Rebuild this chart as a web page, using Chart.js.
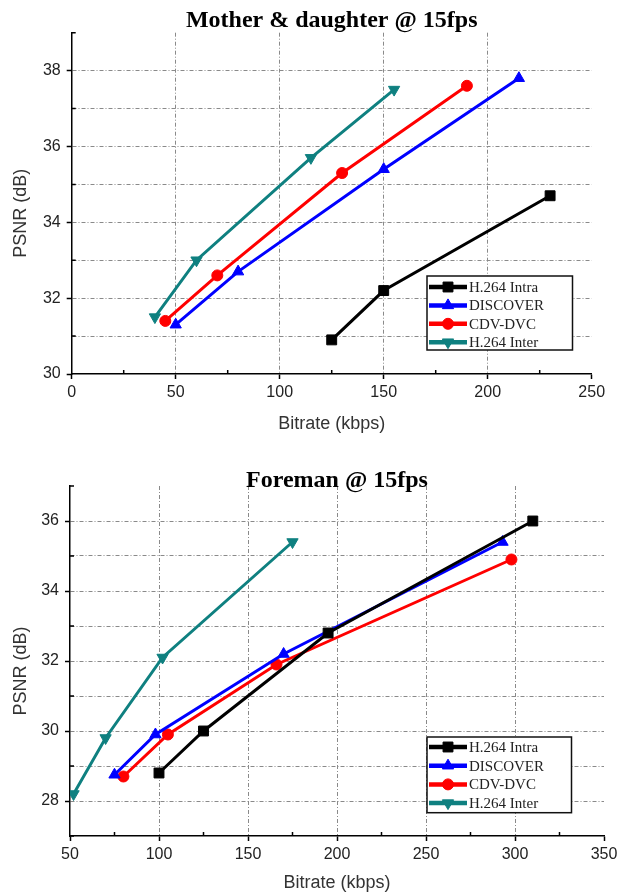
<!DOCTYPE html>
<html><head><meta charset="utf-8">
<script src="https://cdn.jsdelivr.net/npm/chart.js@4/dist/chart.umd.min.js"></script>
<style>
html,body{margin:0;padding:0;background:#fff;}
#wrap{position:relative;width:629px;height:894px;overflow:hidden;}
#c1{position:absolute;left:0;top:0;}
#c2{position:absolute;left:0;top:450px;}
</style></head><body>
<div id="wrap">
<canvas id="c1" width="629" height="450"></canvas>
<canvas id="c2" width="629" height="444"></canvas>
</div>
<script>
// ---------- data ----------
const seriesNames = ['H.264 Intra', 'DISCOVER', 'CDV-DVC', 'H.264 Inter'];

// Mother & daughter @ 15fps
const mdIntraX    = [125, 150, 230];
const mdIntraY    = [30.9, 32.2, 34.7];
const mdDiscoverX = [50, 80, 150, 215];
const mdDiscoverY = [31.3, 32.7, 35.4, 37.8];
const mdCdvX      = [45, 70, 130, 190];
const mdCdvY      = [31.4, 32.6, 35.3, 37.6];
const mdInterX    = [40, 60, 115, 155];
const mdInterY    = [31.5, 33.0, 35.7, 37.5];

// Foreman @ 15fps
const fmIntraX    = [100, 125, 195, 310];
const fmIntraY    = [28.8, 30.0, 32.8, 36.0];
const fmDiscoverX = [75, 98, 170, 293];
const fmDiscoverY = [28.75, 29.9, 32.2, 35.4];
const fmCdvX      = [80, 105, 166, 298];
const fmCdvY      = [28.7, 29.9, 31.9, 34.9];
const fmInterX    = [52, 70, 102, 175];
const fmInterY    = [28.2, 29.8, 32.1, 35.4];

// tick label sets
const mdXTickLabels = [0, 50, 100, 150, 200, 250];
const mdYTickLabels = [30, 32, 34, 36, 38];
const fmXTickLabels = [50, 100, 150, 200, 250, 300, 350];
const fmYTickLabels = [28, 30, 32, 34, 36];

// ---------- styling ----------
const colors = ['#000000', '#0000ff', '#ff0000', '#0f8080'];
const shapes = [
  {pointStyle: 'rect', pointRadius: 7, rotation: 0},
  {pointStyle: 'triangle', pointRadius: 6.5, rotation: 0},
  {pointStyle: 'circle', pointRadius: 5.5, rotation: 0},
  {pointStyle: 'triangle', pointRadius: 6.5, rotation: 180}
];

function pts(xs, ys) { return xs.map((x, i) => ({x: x, y: ys[i]})); }

function makeDatasets(pairs) {
  return pairs.map((p, i) => ({
    label: seriesNames[i],
    data: pts(p[0], p[1]),
    borderColor: colors[i],
    backgroundColor: colors[i],
    borderWidth: 3,
    pointStyle: shapes[i].pointStyle,
    pointRadius: shapes[i].pointRadius,
    pointRotation: shapes[i].rotation,
    pointBorderWidth: 1,
    pointHoverRadius: shapes[i].pointRadius,
    tension: 0,
    fill: false,
    showLine: true
  }));
}

const decor = {
  id: 'decor',
  afterDraw(chart, args, o) {
    const ctx = chart.ctx;
    const xs = chart.scales.x, ys = chart.scales.y;
    ctx.save();
    // inward minor ticks
    ctx.strokeStyle = '#000';
    ctx.lineWidth = 1.5;
    ctx.beginPath();
    xs.ticks.forEach(t => {
      if (!o.xLabels.includes(t.value)) {
        const px = xs.getPixelForValue(t.value);
        ctx.moveTo(px, ys.bottom); ctx.lineTo(px, ys.bottom - 4);
      }
    });
    ys.ticks.forEach(t => {
      if (!o.yLabels.includes(t.value)) {
        const py = ys.getPixelForValue(t.value);
        ctx.moveTo(xs.left, py); ctx.lineTo(xs.left + 4, py);
      }
    });
    ctx.stroke();
    // legend box
    const L = o.legend;
    ctx.fillStyle = '#fff';
    ctx.fillRect(L.x, L.y, L.w, L.h);
    ctx.strokeStyle = '#111';
    ctx.lineWidth = 1.5;
    ctx.strokeRect(L.x, L.y, L.w, L.h);
    chart.data.datasets.forEach((ds, i) => {
      const cy = L.y + L.first + i * L.row;
      ctx.strokeStyle = ds.borderColor;
      ctx.lineWidth = 4.5;
      ctx.beginPath();
      ctx.moveTo(L.x + 2, cy); ctx.lineTo(L.x + 40, cy);
      ctx.stroke();
      ctx.fillStyle = ds.backgroundColor;
      ctx.lineWidth = 1;
      Chart.helpers.drawPoint(ctx, {pointStyle: ds.pointStyle, rotation: ds.pointRotation, radius: ds.pointRadius, borderWidth: 1}, L.x + 21, cy);
      ctx.fillStyle = '#222';
      ctx.font = '15px "Liberation Serif", "Times New Roman", serif';
      ctx.textBaseline = 'middle';
      ctx.textAlign = 'left';
      ctx.fillText(ds.label, L.x + 42, cy + 1);
    });
    ctx.restore();
  }
};

function makeChart(id, cfg) {
  const xL = cfg.xLabels, yL = cfg.yLabels;
  return new Chart(document.getElementById(id), {
    type: 'line',
    data: {datasets: makeDatasets(cfg.pairs)},
    plugins: [decor],
    options: {
      responsive: false,
      animation: false,
      events: [],
      layout: {padding: {left: 0, right: cfg.padRight, top: 0, bottom: 0}},
      plugins: {
        legend: {display: false},
        tooltip: {enabled: false},
        title: {
          display: true,
          fullSize: false,
          text: cfg.title,
          color: '#000',
          font: {family: '"Liberation Serif", "Times New Roman", serif', size: 24, weight: 'bold', lineHeight: '10px'},
          padding: {top: cfg.titleTop, bottom: cfg.titleBottom}
        },
        decor: {xLabels: xL, yLabels: yL, legend: cfg.legend}
      },
      scales: {
        x: {
          type: 'linear',
          min: cfg.xMin, max: cfg.xMax,
          afterFit: s => { s.height = cfg.xHeight; },
          ticks: {
            stepSize: 25,
            autoSkip: false,
            maxRotation: 0,
            padding: 4,
            color: '#222',
            font: {family: '"Liberation Sans", Arial, sans-serif', size: 16},
            callback: v => xL.includes(v) ? String(v) : ''
          },
          grid: {
            drawTicks: true,
            tickLength: 5,
            tickWidth: 1.5,
            lineWidth: 1,
            color: c => (c.tick && xL.includes(c.tick.value) && c.tick.value !== cfg.xMin && c.tick.value !== cfg.xMax) ? '#8a8a8a' : 'rgba(0,0,0,0)',
            tickColor: c => (c.tick && xL.includes(c.tick.value)) ? '#000' : 'rgba(0,0,0,0)'
          },
          border: {display: true, color: '#000', width: 1.5, dash: [4, 2, 1, 2]},
          title: {
            display: true,
            text: 'Bitrate (kbps)',
            color: '#333',
            font: {family: '"Liberation Sans", Arial, sans-serif', size: 18},
            padding: {top: 0, bottom: cfg.xTitlePad}
          }
        },
        y: {
          type: 'linear',
          min: cfg.yMin, max: cfg.yMax,
          afterFit: s => { s.width = cfg.yWidth; },
          ticks: {
            stepSize: 1,
            autoSkip: false,
            padding: 6,
            color: '#222',
            font: {family: '"Liberation Sans", Arial, sans-serif', size: 16},
            callback: v => yL.includes(v) ? String(v) : ''
          },
          grid: {
            drawTicks: true,
            tickLength: 5,
            tickWidth: 1.5,
            lineWidth: 1,
            color: c => (c.tick && c.tick.value !== cfg.yMin && c.tick.value !== cfg.yMax) ? '#8a8a8a' : 'rgba(0,0,0,0)',
            tickColor: c => (c.tick && yL.includes(c.tick.value)) ? '#000' : 'rgba(0,0,0,0)'
          },
          border: {display: true, color: '#000', width: 1.5, dash: [4, 2, 1, 2]},
          title: {
            display: true,
            text: 'PSNR (dB)    ',
            color: '#333',
            font: {family: '"Liberation Sans", Arial, sans-serif', size: 18},
            padding: {top: 10, bottom: 0}
          }
        }
      }
    }
  });
}

makeChart('c1', {
  title: 'Mother & daughter @ 15fps',
  pairs: [[mdIntraX, mdIntraY], [mdDiscoverX, mdDiscoverY], [mdCdvX, mdCdvY], [mdInterX, mdInterY]],
  xLabels: mdXTickLabels, yLabels: mdYTickLabels,
  xMin: 0, xMax: 250, yMin: 30, yMax: 39,
  padRight: 37.3, titleTop: 15.7, titleBottom: 7,
  xHeight: 76, yWidth: 71.7, xTitlePad: 15,
  legend: {x: 427, y: 276, w: 145.5, h: 74, first: 11, row: 18.4}
});

makeChart('c2', {
  title: 'Foreman @ 15fps',
  pairs: [[fmIntraX, fmIntraY], [fmDiscoverX, fmDiscoverY], [fmCdvX, fmCdvY], [fmInterX, fmInterY]],
  xLabels: fmXTickLabels, yLabels: fmYTickLabels,
  xMin: 50, xMax: 350, yMin: 27, yMax: 37,
  padRight: 25, titleTop: 26, titleBottom: 0,
  xHeight: 58, yWidth: 70, xTitlePad: 0,
  legend: {x: 427, y: 287, w: 144.5, h: 75.7, first: 10, row: 18.7}
});
</script>
</body></html>
